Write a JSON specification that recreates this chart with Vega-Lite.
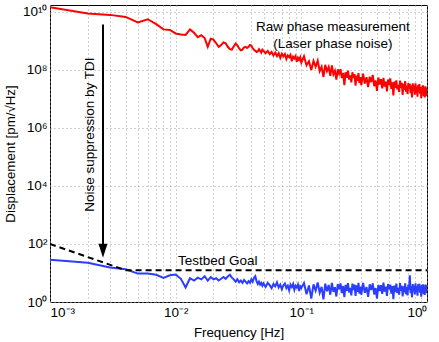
{
"$schema": "https://vega.github.io/schema/vega-lite/v6.json",
"width": 377, "height": 297,
"autosize": {"type": "none"},
"padding": {"left": 50, "top": 5, "right": 12, "bottom": 40},
"background": "white",
"config": {
  "font": "Liberation Sans",
  "view": {"stroke": "black", "strokeWidth": 1},
  "axis": {"labelFont": "Liberation Sans", "titleFont": "Liberation Sans", "labelFontSize": 13.5, "titleFontSize": 13.3, "titleFontWeight": "normal", "labelColor": "black", "titleColor": "black", "ticks": false, "domain": false, "gridColor": "#a0a0a0", "gridDash": [1, 3], "gridWidth": 1, "labelPadding": 3}
},
"datasets": {
"s": [
{"f":0.001,"r":1.45e10,"b":28.8},{"f":0.002,"r":8.91e9,"b":22.4},{"f":0.003,"r":7.94e9,"b":15.5},{"f":0.004,"r":6.76e9,"b":13.5},{"f":0.005,"r":4.37e9,"b":9.55},
{"f":0.006,"r":5.62e9,"b":9.55},{"f":0.007,"r":3.80e9,"b":8.71},{"f":0.008,"r":2.51e9,"b":6.76},{"f":0.009,"r":2.40e9,"b":8.32},{"f":0.010,"r":1.82e9,"b":8.91},
{"f":0.011,"r":1.66e9,"b":6.31},{"f":0.012,"r":1.62e9,"b":3.16},{"f":0.013,"r":2.51e9,"b":6.61},{"f":0.014,"r":1.91e9,"b":5.50},{"f":0.015,"r":1.35e9,"b":6.92},
{"f":0.016,"r":1.58e9,"b":6.03},{"f":0.017,"r":1.26e9,"b":7.76},{"f":0.018,"r":6.31e8,"b":5.50},{"f":0.019,"r":1.20e9,"b":7.24},{"f":0.020,"r":1.12e9,"b":6.03},
{"f":0.021,"r":8.32e8,"b":6.61},{"f":0.022,"r":6.31e8,"b":5.50},{"f":0.023,"r":7.24e8,"b":6.31},{"f":0.024,"r":8.91e8,"b":7.24},{"f":0.025,"r":8.32e8,"b":6.31},
{"f":0.026,"r":6.31e8,"b":7.59},{"f":0.027,"r":5.25e8,"b":8.71},{"f":0.028,"r":5.01e8,"b":6.92},{"f":0.029,"r":6.61e8,"b":6.03},{"f":0.030,"r":8.13e8,"b":5.01},
{"f":0.031,"r":7.08e8,"b":6.03},{"f":0.032,"r":5.50e8,"b":4.79},{"f":0.033,"r":4.79e8,"b":5.50},{"f":0.034,"r":5.01e8,"b":4.57},{"f":0.035,"r":6.03e8,"b":5.75},
{"f":0.036,"r":6.31e8,"b":5.01},{"f":0.037,"r":5.75e8,"b":4.37},{"f":0.038,"r":6.31e8,"b":5.25},{"f":0.039,"r":7.24e8,"b":4.57},{"f":0.040,"r":6.92e8,"b":6.03},
{"f":0.041,"r":5.62e8,"b":5.01},{"f":0.042,"r":5.01e8,"b":6.92},{"f":0.043,"r":4.57e8,"b":7.76},{"f":0.044,"r":4.17e8,"b":5.25},{"f":0.045,"r":4.37e8,"b":4.17},
{"f":0.046,"r":5.25e8,"b":5.01},{"f":0.047,"r":4.57e8,"b":3.98},{"f":0.048,"r":3.98e8,"b":4.57},{"f":0.049,"r":5.01e8,"b":3.63},{"f":0.050,"r":4.57e8,"b":4.37},
{"f":0.052,"r":3.80e8,"b":3.31},{"f":0.054,"r":4.57e8,"b":4.57},{"f":0.056,"r":3.55e8,"b":3.80},{"f":0.058,"r":4.17e8,"b":3.02},{"f":0.060,"r":3.16e8,"b":4.17},
{"f":0.062,"r":3.98e8,"b":3.47},{"f":0.064,"r":3.02e8,"b":4.79},{"f":0.066,"r":3.80e8,"b":3.16},{"f":0.068,"r":2.63e8,"b":3.98},{"f":0.070,"r":3.63e8,"b":2.75},
{"f":0.072,"r":2.95e8,"b":3.80},{"f":0.074,"r":3.55e8,"b":4.37},{"f":0.076,"r":2.40e8,"b":3.02},{"f":0.078,"r":3.16e8,"b":3.63},{"f":0.080,"r":2.75e8,"b":2.51},
{"f":0.082,"r":3.31e8,"b":3.98},{"f":0.084,"r":2.00e8,"b":3.31},{"f":0.086,"r":2.88e8,"b":4.17},{"f":0.088,"r":2.51e8,"b":2.63},{"f":0.090,"r":3.02e8,"b":3.63},
{"f":0.092,"r":1.91e8,"b":3.16},{"f":0.094,"r":2.63e8,"b":3.98},{"f":0.096,"r":2.24e8,"b":2.40},{"f":0.098,"r":2.75e8,"b":3.47},{"f":0.100,"r":1.78e8,"b":3.02},
{"f":0.105,"r":2.95e8,"b":4.47},{"f":0.110,"r":1.45e8,"b":1.86},{"f":0.115,"r":2.00e8,"b":3.72},{"f":0.120,"r":1.00e8,"b":1.32},{"f":0.125,"r":2.04e8,"b":4.07},
{"f":0.130,"r":1.29e8,"b":2.45},{"f":0.135,"r":2.09e8,"b":4.68},{"f":0.140,"r":9.12e7,"b":2.09},{"f":0.145,"r":1.29e8,"b":3.31},{"f":0.150,"r":5.75e7,"b":1.23},
{"f":0.155,"r":1.51e8,"b":4.27},{"f":0.160,"r":9.12e7,"b":2.34},{"f":0.165,"r":1.26e8,"b":3.89},{"f":0.170,"r":6.31e7,"b":1.78},{"f":0.175,"r":1.45e8,"b":4.57},
{"f":0.180,"r":7.08e7,"b":2.24},{"f":0.185,"r":9.33e7,"b":3.24},{"f":0.190,"r":4.68e7,"b":1.55},{"f":0.195,"r":1.05e8,"b":4.17},{"f":0.200,"r":7.41e7,"b":2.75},
{"f":0.205,"r":1.07e8,"b":4.37},{"f":0.210,"r":5.25e7,"b":2.04},{"f":0.215,"r":7.94e7,"b":3.55},{"f":0.220,"r":3.02e7,"b":1.48},{"f":0.225,"r":8.32e7,"b":3.89},
{"f":0.230,"r":5.37e7,"b":2.40},{"f":0.235,"r":9.55e7,"b":4.47},{"f":0.240,"r":4.68e7,"b":2.14},{"f":0.245,"r":6.46e7,"b":3.09},{"f":0.250,"r":3.72e7,"b":1.70},
{"f":0.255,"r":8.32e7,"b":4.27},{"f":0.260,"r":5.25e7,"b":2.57},{"f":0.265,"r":7.24e7,"b":3.98},{"f":0.270,"r":2.88e7,"b":1.62},{"f":0.275,"r":6.46e7,"b":3.72},
{"f":0.280,"r":4.27e7,"b":2.24},{"f":0.285,"r":7.76e7,"b":4.57},{"f":0.290,"r":3.55e7,"b":1.95},{"f":0.295,"r":5.62e7,"b":3.39},{"f":0.300,"r":3.02e7,"b":1.78},
{"f":0.31,"r":7.41e7,"b":4.57},{"f":0.32,"r":3.39e7,"b":2.09},{"f":0.33,"r":5.62e7,"b":3.31},{"f":0.34,"r":2.57e7,"b":1.51},{"f":0.35,"r":5.89e7,"b":4.07},
{"f":0.36,"r":3.80e7,"b":2.57},{"f":0.37,"r":6.76e7,"b":4.37},{"f":0.38,"r":2.75e7,"b":1.82},{"f":0.39,"r":4.37e7,"b":3.02},{"f":0.40,"r":1.91e7,"b":1.32},
{"f":0.41,"r":5.50e7,"b":3.89},{"f":0.42,"r":3.16e7,"b":2.40},{"f":0.43,"r":4.79e7,"b":3.80},{"f":0.44,"r":2.34e7,"b":1.91},{"f":0.45,"r":5.37e7,"b":4.68},
{"f":0.46,"r":2.69e7,"b":2.29},{"f":0.47,"r":3.98e7,"b":3.39},{"f":0.48,"r":1.82e7,"b":1.62},{"f":0.49,"r":4.68e7,"b":4.17},{"f":0.50,"r":3.02e7,"b":2.75},
{"f":0.51,"r":5.13e7,"b":3.98},{"f":0.52,"r":2.24e7,"b":1.95},{"f":0.53,"r":3.72e7,"b":3.55},{"f":0.54,"r":1.32e7,"b":1.26},{"f":0.55,"r":3.98e7,"b":3.72},
{"f":0.56,"r":2.40e7,"b":2.19},{"f":0.57,"r":4.37e7,"b":4.27},{"f":0.58,"r":2.14e7,"b":2.04},{"f":0.59,"r":3.09e7,"b":3.09},{"f":0.60,"r":1.74e7,"b":1.78},
{"f":0.61,"r":4.27e7,"b":4.47},{"f":0.62,"r":2.40e7,"b":2.45},{"f":0.63,"r":3.63e7,"b":3.63},{"f":0.64,"r":1.38e7,"b":1.55},{"f":0.65,"r":3.31e7,"b":3.47},
{"f":0.66,"r":2.09e7,"b":2.14},{"f":0.67,"r":4.17e7,"b":4.37},{"f":0.68,"r":1.78e7,"b":1.86},{"f":0.69,"r":2.82e7,"b":3.24},{"f":0.70,"r":1.48e7,"b":1.70},
{"f":0.71,"r":3.55e7,"b":3.98},{"f":0.72,"r":2.24e7,"b":2.63},{"f":0.73,"r":3.31e7,"b":8.32},{"f":0.74,"r":1.58e7,"b":2.00},{"f":0.75,"r":2.88e7,"b":3.55},
{"f":0.76,"r":1.12e7,"b":1.45},{"f":0.77,"r":3.47e7,"b":4.17},{"f":0.78,"r":1.95e7,"b":2.34},{"f":0.79,"r":2.88e7,"b":3.72},{"f":0.80,"r":1.41e7,"b":1.82},
{"f":0.81,"r":3.47e7,"b":4.37},{"f":0.82,"r":1.66e7,"b":2.19},{"f":0.83,"r":2.57e7,"b":3.39},{"f":0.84,"r":1.20e7,"b":1.66},{"f":0.85,"r":3.02e7,"b":4.07},
{"f":0.86,"r":2.00e7,"b":2.69},{"f":0.87,"r":3.24e7,"b":4.27},{"f":0.88,"r":1.51e7,"b":2.09},{"f":0.89,"r":2.57e7,"b":3.47},{"f":0.90,"r":1.07e7,"b":1.51},
{"f":0.91,"r":2.69e7,"b":3.89},{"f":0.92,"r":1.62e7,"b":2.24},{"f":0.93,"r":2.95e7,"b":4.07},{"f":0.94,"r":1.26e7,"b":1.86},{"f":0.95,"r":2.24e7,"b":3.31},
{"f":0.96,"r":1.12e7,"b":1.74},{"f":0.97,"r":2.75e7,"b":3.98},{"f":0.98,"r":1.58e7,"b":2.40},{"f":0.99,"r":2.45e7,"b":3.80},{"f":1.00,"r":1.26e7,"b":2.00}
],
"goal": [{"f":0.001,"g":100},{"f":0.004,"g":12.5},{"f":1,"g":12.5}],
"arrow": [{"f":0.00264,"top":3.7e9,"bot":59}],
"ann": [
{"f":0.178,"y":3.1e9,"t":"Raw phase measurement"},
{"f":0.178,"y":7.7e8,"t":"(Laser phase noise)"},
{"f":0.0216,"y":25,"t":"Testbed Goal"}
],
"rot": [{"f":0.00208,"y":5.9e5,"t":"Noise suppression by TDI"}]
},
"encoding": {
  "x": {"field": "f", "type": "quantitative", "scale": {"type": "log", "domain": [0.001, 1], "nice": false},
        "axis": {"title": "Frequency [Hz]", "titlePadding": 7, "values": [0.001,0.002,0.003,0.004,0.005,0.006,0.007,0.008,0.009,0.01,0.02,0.03,0.04,0.05,0.06,0.07,0.08,0.09,0.1,0.2,0.3,0.4,0.5,0.6,0.7,0.8,0.9,1],
        "labelExpr": "datum.value == 0.001 ? '10⁻³' : datum.value == 0.01 ? '10⁻²' : datum.value == 0.1 ? '10⁻¹' : datum.value == 1 ? '10⁰' : ''", "labelOverlap": false}}
},
"layer": [
{
 "data": {"name": "s"},
 "mark": {"type": "line", "color": "#ff0000", "strokeWidth": 2, "clip": true},
 "encoding": {
  "y": {"field": "r", "type": "quantitative", "scale": {"type": "log", "domain": [1, 1.74e10], "nice": false},
        "axis": {"title": "Displacement [pm/√Hz]", "titlePadding": 5, "values": [1, 100, 10000, 1000000, 100000000, 10000000000],
        "labelExpr": "datum.value == 1 ? '10⁰' : datum.value == 100 ? '10²' : datum.value == 10000 ? '10⁴' : datum.value == 1000000 ? '10⁶' : datum.value == 100000000 ? '10⁸' : '10¹⁰'", "labelOverlap": false}}
 }
},
{
 "data": {"name": "s"},
 "mark": {"type": "line", "color": "#2b3dff", "strokeWidth": 2, "clip": true},
 "encoding": {
  "y": {"field": "b", "type": "quantitative", "scale": {"type": "log", "domain": [1, 1.74e10], "nice": false},
        "axis": {"title": "Displacement [pm/√Hz]", "titlePadding": 5, "values": [1, 100, 10000, 1000000, 100000000, 10000000000],
        "labelExpr": "datum.value == 1 ? '10⁰' : datum.value == 100 ? '10²' : datum.value == 10000 ? '10⁴' : datum.value == 1000000 ? '10⁶' : datum.value == 100000000 ? '10⁸' : '10¹⁰'", "labelOverlap": false}}
 }
},
{
 "data": {"name": "goal"},
 "mark": {"type": "line", "color": "black", "strokeWidth": 2, "strokeDash": [6, 4], "clip": true},
 "encoding": {
  "y": {"field": "g", "type": "quantitative", "scale": {"type": "log", "domain": [1, 1.74e10], "nice": false},
        "axis": {"title": "Displacement [pm/√Hz]", "titlePadding": 5, "values": [1, 100, 10000, 1000000, 100000000, 10000000000],
        "labelExpr": "datum.value == 1 ? '10⁰' : datum.value == 100 ? '10²' : datum.value == 10000 ? '10⁴' : datum.value == 1000000 ? '10⁶' : datum.value == 100000000 ? '10⁸' : '10¹⁰'", "labelOverlap": false}}
 }
},
{
 "data": {"name": "arrow"},
 "mark": {"type": "rule", "color": "black", "strokeWidth": 2},
 "encoding": {
  "y": {"field": "top", "type": "quantitative", "scale": {"type": "log", "domain": [1, 1.74e10], "nice": false},
        "axis": {"title": "Displacement [pm/√Hz]", "titlePadding": 5, "values": [1, 100, 10000, 1000000, 100000000, 10000000000],
        "labelExpr": "datum.value == 1 ? '10⁰' : datum.value == 100 ? '10²' : datum.value == 10000 ? '10⁴' : datum.value == 1000000 ? '10⁶' : datum.value == 100000000 ? '10⁸' : '10¹⁰'", "labelOverlap": false}},
  "y2": {"field": "bot"}
 }
},
{
 "data": {"name": "arrow"},
 "mark": {"type": "point", "shape": "M-0.64,-1L0.64,-1L0,1Z", "size": 196, "filled": true, "color": "black", "opacity": 1, "strokeWidth": 0},
 "encoding": {
  "y": {"field": "bot", "type": "quantitative", "scale": {"type": "log", "domain": [1, 1.74e10], "nice": false},
        "axis": {"title": "Displacement [pm/√Hz]", "titlePadding": 5, "values": [1, 100, 10000, 1000000, 100000000, 10000000000],
        "labelExpr": "datum.value == 1 ? '10⁰' : datum.value == 100 ? '10²' : datum.value == 10000 ? '10⁴' : datum.value == 1000000 ? '10⁶' : datum.value == 100000000 ? '10⁸' : '10¹⁰'", "labelOverlap": false}}
 }
},
{
 "data": {"name": "ann"},
 "mark": {"type": "text", "font": "Liberation Sans", "fontSize": 13.5, "align": "center", "baseline": "middle", "color": "black"},
 "encoding": {
  "y": {"field": "y", "type": "quantitative", "scale": {"type": "log", "domain": [1, 1.74e10], "nice": false},
        "axis": {"title": "Displacement [pm/√Hz]", "titlePadding": 5, "values": [1, 100, 10000, 1000000, 100000000, 10000000000],
        "labelExpr": "datum.value == 1 ? '10⁰' : datum.value == 100 ? '10²' : datum.value == 10000 ? '10⁴' : datum.value == 1000000 ? '10⁶' : datum.value == 100000000 ? '10⁸' : '10¹⁰'", "labelOverlap": false}},
  "text": {"field": "t"}
 }
},
{
 "data": {"name": "rot"},
 "mark": {"type": "text", "font": "Liberation Sans", "fontSize": 13.5, "align": "center", "baseline": "middle", "angle": 270, "color": "black"},
 "encoding": {
  "y": {"field": "y", "type": "quantitative", "scale": {"type": "log", "domain": [1, 1.74e10], "nice": false},
        "axis": {"title": "Displacement [pm/√Hz]", "titlePadding": 5, "values": [1, 100, 10000, 1000000, 100000000, 10000000000],
        "labelExpr": "datum.value == 1 ? '10⁰' : datum.value == 100 ? '10²' : datum.value == 10000 ? '10⁴' : datum.value == 1000000 ? '10⁶' : datum.value == 100000000 ? '10⁸' : '10¹⁰'", "labelOverlap": false}},
  "text": {"field": "t"}
 }
}
]
}
